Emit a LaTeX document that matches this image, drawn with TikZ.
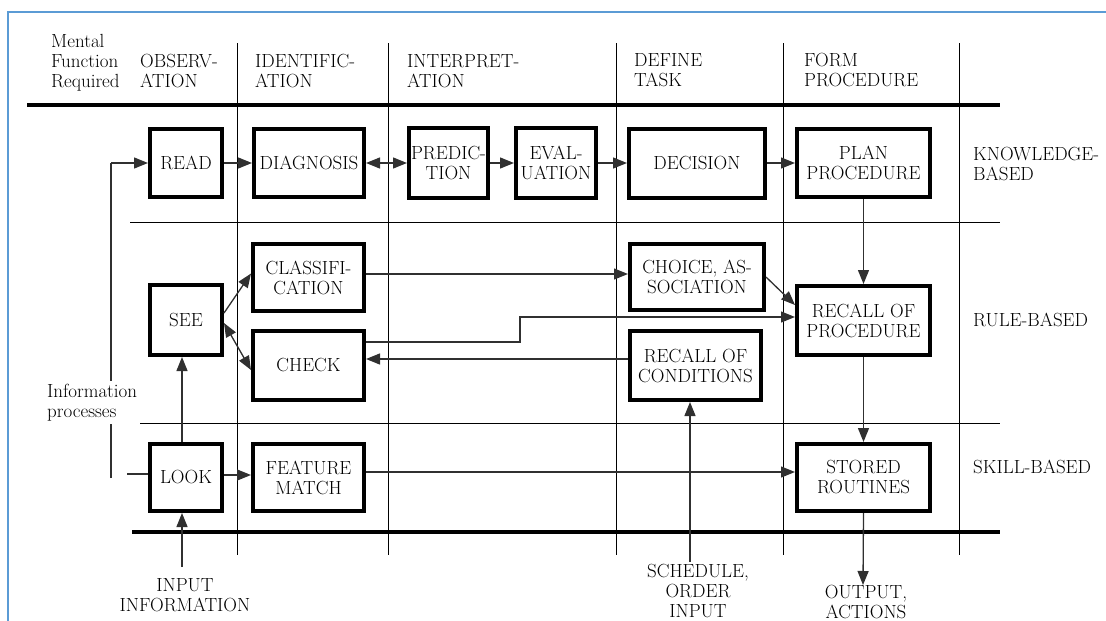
\documentclass[tikz,border=0pt]{standalone}
\usepackage{fontspec}
\usetikzlibrary{arrows.meta}
\definecolor{frameblue}{HTML}{5B9BD5}
\definecolor{wire}{HTML}{303030}
\begin{document}
\begin{tikzpicture}[x=1pt,y=-1pt,
  font=\fontsize{19}{20}\selectfont\addfontfeatures{FakeBold=0.4},
  stage/.style={draw, fill=white, line width=4pt, align=center, inner sep=0pt},
  gridline/.style={line width=0.9pt},
  rulebar/.style={line width=4.5pt},
  flow/.style={draw=wire, line width=1.3pt, -{Triangle[length=14pt,width=11pt]}},
  bothflow/.style={draw=wire, line width=1.3pt, {Triangle[length=14pt,width=11pt]}-{Triangle[length=14pt,width=11pt]}},
  plainwire/.style={draw=wire, line width=1.3pt},
  lbl/.style={inner sep=0pt, align=left, anchor=north west},
  clbl/.style={inner sep=0pt, align=center, anchor=north},
]
\useasboundingbox (0,0) rectangle (1106,621);

% outer frame
\draw[frameblue, line width=2pt] (8,621) -- (8,12) -- (1106,12);

% column separators
\foreach \cx in {237,388,616,783,959}
  \draw[gridline] (\cx,43) -- (\cx,555);
% level separators
\draw[gridline] (130,222) -- (1000,222);
\draw[gridline] (135,423) -- (1000,423);
\draw[rulebar] (27,105) -- (1000,105);
\draw[rulebar] (132,532) -- (1000,532);

% column headings
\node[lbl] (hmental) at (51,34) {Mental\\Function\\Required};
\node[lbl] (hobs) at (140,54) {OBSERV-\\ATION};
\node[lbl] (hident) at (255,54) {IDENTIFIC-\\ATION};
\node[lbl] (hinterp) at (407,54) {INTERPRET-\\ATION};
\node[lbl] (hdefine) at (634,53) {DEFINE\\TASK};
\node[lbl] (hform) at (804,53) {FORM\\PROCEDURE};

% level names
\node[lbl] (lknow) at (973,147) {KNOWLEDGE-\\BASED};
\node[lbl] (lrule) at (973,313) {RULE-BASED};
\node[lbl] (lskill) at (973,460) {SKILL-BASED};

% knowledge-based row
\node[stage, minimum width=72pt, minimum height=68pt] (read) at (186,163) {READ};
\node[stage, minimum width=110pt, minimum height=68pt] (diag) at (309,163) {DIAGNOSIS};
\node[stage, minimum width=79pt, minimum height=70pt] (pred) at (448.5,163) {PREDIC-\\TION};
\node[stage, minimum width=80pt, minimum height=70pt] (eval) at (556,163) {EVAL-\\UATION};
\node[stage, minimum width=136pt, minimum height=69pt] (dec) at (697,163) {DECISION};
\node[stage, minimum width=133pt, minimum height=68pt] (plan) at (863.5,163) {PLAN\\PROCEDURE};

% rule-based row
\node[stage, minimum width=111pt, minimum height=67pt] (class) at (308.5,277.5) {CLASSIFI-\\CATION};
\node[stage, minimum width=72pt, minimum height=70pt] (see) at (186,320) {SEE};
\node[stage, minimum width=111pt, minimum height=69pt] (check) at (308.5,365.5) {CHECK};
\node[stage, minimum width=134pt, minimum height=66pt] (choice) at (697,277) {CHOICE, AS-\\SOCIATION};
\node[stage, minimum width=131pt, minimum height=69pt] (rcond) at (695.5,365.5) {RECALL OF\\CONDITIONS};
\node[stage, minimum width=133pt, minimum height=69pt] (rproc) at (863.5,320.5) {RECALL OF\\PROCEDURE};

% skill-based row
\node[stage, minimum width=72pt, minimum height=67pt] (look) at (186,477.5) {LOOK};
\node[stage, minimum width=111pt, minimum height=67pt] (feat) at (308.5,477.5) {FEATURE\\MATCH};
\node[stage, minimum width=133pt, minimum height=67pt] (stored) at (863.5,477.5) {STORED\\ROUTINES};

% inputs and outputs
\node[clbl] (inputinfo) at (185,578) {INPUT\\INFORMATION};
\node[clbl] (schedule) at (698,564) {SCHEDULE,\\ORDER\\INPUT};
\node[clbl] (output) at (866,585) {OUTPUT,\\ACTIONS};

\coordinate (infotop) at (111,163);
\coordinate (infobot) at (111,478);
\coordinate (lookin) at (127,474);
\coordinate (inp) at (182,567);
\coordinate (sched) at (690,562);
\coordinate (outend) at (863,585);
\coordinate (jog) at (520,317);

% information processes line on the left
\draw[plainwire] (infobot) -- (infotop);
\draw[flow] (infotop) -- (read.west);
\node[lbl, fill=white, inner sep=3pt] (infoproc) at (44,381) {Information\\processes};
\draw[plainwire] (lookin) -- (lookin -| look.west);

% knowledge-based flow
\draw[flow] (read.east) -- (diag.west);
\draw[bothflow] (diag.east) -- (pred.west);
\draw[flow] (pred.east) -- (eval.west);
\draw[flow] (eval.east) -- (dec.west);
\draw[flow] (dec.east) -- (plan.west);
\draw[flow] (plan.south) -- (rproc.north);
\draw[flow] (rproc.south) -- (stored.north);
\draw[flow] (stored.south) -- (outend);

% rule-based flow
\draw[flow] ([yshift=7pt]see.east) -- ([yshift=4pt]class.west);
\draw[bothflow] ([yshift=-3pt]see.east) -- ([yshift=-4.5pt]check.west);
\draw[flow] ([yshift=3.5pt]class.east) -- ([yshift=3.5pt]class.east -| choice.west);
\draw[flow] ([yshift=23.5pt]check.east) -| (jog) -- (jog -| rproc.west);
\draw[flow] ([yshift=6.5pt]rcond.west) -- ([yshift=6.5pt]rcond.west -| check.east);
\draw[flow] (choice.east) -- ([yshift=15.5pt]rproc.west);
\draw[flow] (sched) -- (sched |- rcond.south);

% skill-based flow
\draw[flow] ([xshift=-4pt]look.north) -- ([xshift=-4pt]see.south);
\draw[flow] (inp) -- (inp |- look.south);
\draw[flow] ([yshift=2.5pt]look.east) -- ([yshift=2.5pt]look.east -| feat.west);
\draw[flow] ([yshift=5.5pt]feat.east) -- ([yshift=5.5pt]feat.east -| stored.west);
\end{tikzpicture}
\end{document}
